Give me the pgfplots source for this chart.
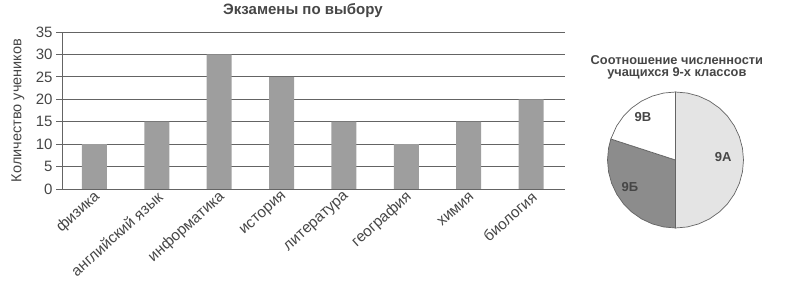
\documentclass[border=0pt]{standalone}
\usepackage{pgfplots}
\pgfplotsset{compat=1.18}
\usepackage{fontspec}
\setmainfont{Liberation Sans}
\definecolor{barc}{RGB}{158,158,158}
\definecolor{pieA}{RGB}{228,228,228}
\definecolor{pieB}{RGB}{140,140,140}
\definecolor{gridc}{RGB}{100,100,100}
\definecolor{txt}{RGB}{70,70,70}
\begin{document}
\begin{tikzpicture}
\path[use as bounding box] (0,0) rectangle (788bp,295bp);
\begin{axis}[
  at={(62bp,106bp)}, anchor=south west,
  scale only axis, width=503bp, height=157bp,
  xmin=-0.521, xmax=7.545, ymin=0, ymax=35,
  ytick={0,5,10,15,20,25,30,35},
  xtick={0,1,2,3,4,5,6,7},
  xticklabels={физика,английский язык,информатика,история,литература,география,химия,биология},
  axis x line*=bottom,
  axis y line*=left,
  x axis line style={draw=none},
  major x tick style={draw=none},
  y axis line style={draw=gridc, line width=0.8pt},
  ymajorgrids, grid style={draw=gridc, line width=0.8pt},
  major y tick style={draw=gridc, line width=0.8pt},
  tick align=outside, major tick length=6bp,
  /pgf/number format/assume math mode=true,
  ticklabel style={font=\fontsize{15bp}{17bp}\selectfont, text=txt},
  xticklabel style={rotate=42, anchor=east, font=\fontsize{15.3bp}{17bp}\selectfont, text=txt, xshift=6bp, yshift=-2bp},
  ylabel={Количество учеников},
  ylabel style={at={(axis description cs:-0.0875,0.5)}, anchor=center, font=\fontsize{14.5bp}{16bp}\selectfont, text=txt},
  clip=false,
]
\addplot[ybar, bar width=25bp, fill=barc, draw=none] coordinates {(0,10) (1,15) (2,30) (3,25) (4,15) (5,10) (6,15) (7,20)};
\draw[gridc, line width=0.8pt] (axis cs:-0.521,0) -- (axis cs:7.545,0);
\node[font=\fontsize{15bp}{17bp}\selectfont\bfseries, text=txt] at (axis description cs:0.479,1.134) {Экзамены по выбору};
\end{axis}
\begin{axis}[
  at={(607.5bp,67bp)}, anchor=south west,
  scale only axis, width=136bp, height=136bp,
  xmin=-1, xmax=1, ymin=-1, ymax=1,
  hide axis, clip=false,
]
\addplot[data cs=polar, fill=pieA, draw=gridc, line width=0.7pt] coordinates {(0,0) (90,1) (80,1) (70,1) (60,1) (50,1) (40,1) (30,1) (20,1) (10,1) (0,1) (-10,1) (-20,1) (-30,1) (-40,1) (-50,1) (-60,1) (-70,1) (-80,1) (-90,1) (0,0)};
\addplot[data cs=polar, fill=pieB, draw=gridc, line width=0.7pt] coordinates {(0,0) (270,1) (260,1) (250,1) (240,1) (230,1) (220,1) (210,1) (200,1) (190,1) (180,1) (170,1) (162,1) (0,0)};
\addplot[data cs=polar, fill=white, draw=gridc, line width=0.7pt] coordinates {(0,0) (162,1) (150,1) (140,1) (130,1) (120,1) (110,1) (100,1) (90,1) (0,0)};
\node[font=\fontsize{13bp}{15bp}\selectfont\bfseries, text=txt] at (axis cs:0.70,0.04) {9А};
\node[font=\fontsize{13bp}{15bp}\selectfont\bfseries, text=txt] at (axis cs:-0.67,-0.40) {9Б};
\node[font=\fontsize{13bp}{15bp}\selectfont\bfseries, text=txt] at (axis cs:-0.48,0.63) {9В};
\node[font=\fontsize{12.8bp}{12bp}\selectfont\bfseries, text=txt, align=center] at (axis cs:0.02,1.36) {Соотношение численности\\учащихся 9-х классов};
\end{axis}
\end{tikzpicture}
\end{document}
